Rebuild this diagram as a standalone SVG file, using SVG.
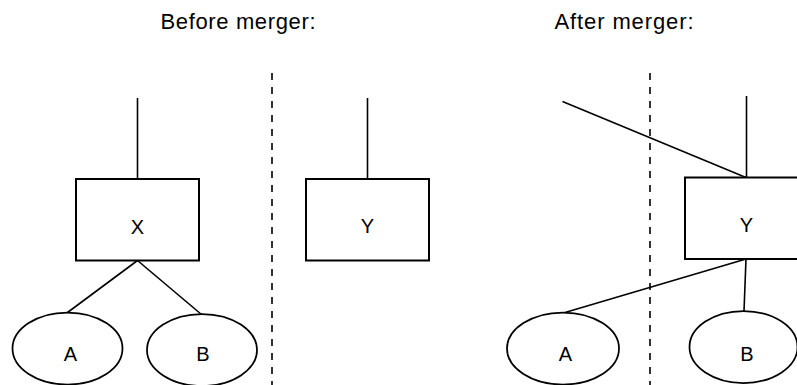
<svg xmlns="http://www.w3.org/2000/svg" width="797" height="385" viewBox="0 0 797 385">
<style>
.title{font-family:"Liberation Sans",Arial,sans-serif;font-size:22px;fill:#000;text-anchor:middle}
.lbl{font-family:"Liberation Sans",Arial,sans-serif;font-size:20px;fill:#000;text-anchor:middle}
.box{fill:#fff;stroke:#000;stroke-width:2}
.ell{fill:#fff;stroke:#000;stroke-width:1.75}
.edge{stroke:#000;stroke-width:1.6;fill:none}
.sep{stroke:#000;stroke-width:1.6;stroke-dasharray:7 7;fill:none}
</style>
<rect width="797" height="385" fill="#fff"/>
<text class="title" x="238" y="28.5" textLength="155" lengthAdjust="spacing">Before merger:</text>
<text class="title" x="624" y="29" textLength="139" lengthAdjust="spacing">After merger:</text>
<g id="separators">
<line class="sep" x1="272" y1="73" x2="272" y2="385"/>
<line class="sep" x1="650" y1="73" x2="650" y2="385"/>
</g>
<g id="connectors">
<line class="edge" x1="137.5" y1="98" x2="137.5" y2="179"/>
<line class="edge" x1="137.5" y1="260.5" x2="67.5" y2="312.5"/>
<line class="edge" x1="137.5" y1="260.5" x2="201.5" y2="314.5"/>
<line class="edge" x1="367.5" y1="98" x2="367.5" y2="179"/>
<line class="edge" x1="562.5" y1="101.5" x2="746" y2="177.5"/>
<line class="edge" x1="746.5" y1="96" x2="746.5" y2="177.5"/>
<line class="edge" x1="746" y1="259" x2="565" y2="312.5"/>
<line class="edge" x1="746" y1="259" x2="744" y2="311"/>
</g>
<g id="X">
<rect class="box" x="76" y="179" width="123" height="81.5"/>
<text class="lbl" x="137.5" y="233.5">X</text>
</g>
<g id="A1">
<ellipse class="ell" cx="67.5" cy="348.5" rx="55" ry="36"/>
<text class="lbl" x="70.5" y="360.5">A</text>
</g>
<g id="B1">
<ellipse class="ell" cx="202" cy="350" rx="55" ry="36"/>
<text class="lbl" x="203" y="360.5">B</text>
</g>
<g id="Y1">
<rect class="box" x="306" y="179" width="123" height="81.5"/>
<text class="lbl" x="367.5" y="233">Y</text>
</g>
<g id="Y2">
<rect class="box" x="685" y="177.5" width="123" height="81.5"/>
<text class="lbl" x="746.5" y="231.5">Y</text>
</g>
<g id="A2">
<ellipse class="ell" cx="563" cy="348.5" rx="56" ry="36"/>
<text class="lbl" x="565.5" y="360.5">A</text>
</g>
<g id="B2">
<ellipse class="ell" cx="743.5" cy="347" rx="54" ry="36"/>
<text class="lbl" x="747" y="361">B</text>
</g>
</svg>
